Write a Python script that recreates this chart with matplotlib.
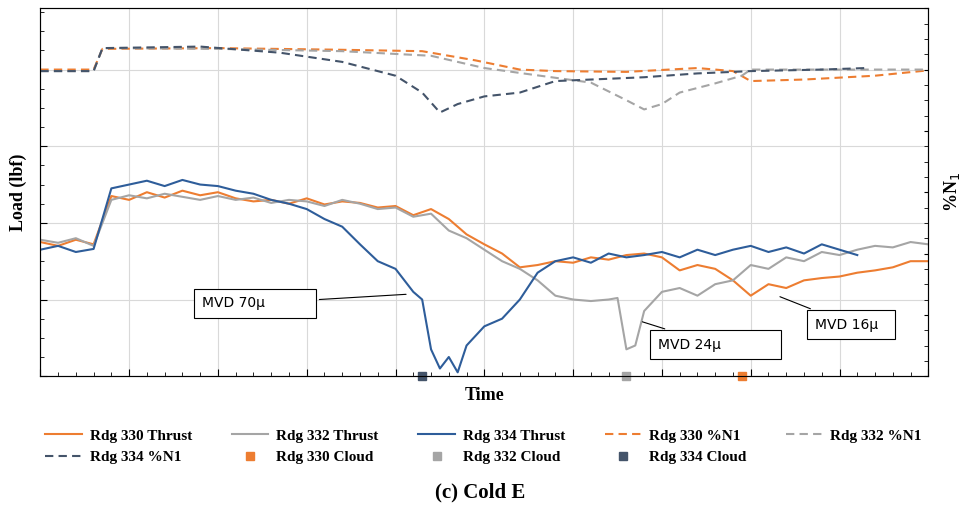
import matplotlib
matplotlib.use("Agg")
import matplotlib.pyplot as plt
from matplotlib.ticker import MultipleLocator, NullFormatter
from matplotlib.lines import Line2D

# ---------------------------------------------------------------------------
# Data (time 0..100, load in arbitrary units 0..4.8)
# ---------------------------------------------------------------------------
x330 = [0, 2, 4, 6, 8, 10, 12, 14, 16, 18, 20, 22, 24, 26, 28, 30, 32, 34, 36, 38, 40, 42, 44, 46, 48,
        50, 52, 54, 56, 58, 60, 62, 64, 66, 68, 70, 72, 74, 76, 78, 80, 82, 84, 86, 88, 90, 92, 94, 96, 98, 100]
thrust330 = [1.75, 1.70, 1.78, 1.72, 2.35, 2.30, 2.40, 2.33, 2.42, 2.36, 2.40, 2.32, 2.28, 2.30, 2.25, 2.32,
             2.24, 2.28, 2.26, 2.20, 2.22, 2.10, 2.18, 2.05, 1.85, 1.72, 1.60, 1.42, 1.45, 1.50, 1.48, 1.55,
             1.52, 1.58, 1.60, 1.55, 1.38, 1.45, 1.40, 1.25, 1.05, 1.20, 1.15, 1.25, 1.28, 1.30, 1.35, 1.38,
             1.42, 1.50, 1.50]

x332 = [0, 2, 4, 6, 8, 10, 12, 14, 16, 18, 20, 22, 24, 26, 28, 30, 32, 34, 36, 38, 40, 42, 44, 46, 48,
        50, 52, 54, 56, 58, 60, 62, 64, 65, 66, 67, 68, 70, 72, 74, 76, 78, 80, 82, 84, 86, 88, 90, 92, 94,
        96, 98, 100]
thrust332 = [1.78, 1.74, 1.80, 1.70, 2.30, 2.36, 2.32, 2.38, 2.34, 2.30, 2.35, 2.30, 2.33, 2.26, 2.30, 2.28,
             2.22, 2.30, 2.25, 2.18, 2.20, 2.08, 2.12, 1.90, 1.80, 1.65, 1.50, 1.40, 1.25, 1.05, 1.00, 0.98,
             1.00, 1.02, 0.35, 0.40, 0.85, 1.10, 1.15, 1.05, 1.20, 1.25, 1.45, 1.40, 1.55, 1.50, 1.62, 1.58,
             1.65, 1.70, 1.68, 1.75, 1.72]

x334 = [0, 2, 4, 6, 8, 10, 12, 14, 16, 18, 20, 22, 24, 26, 28, 30, 32, 34, 36, 38, 40, 42, 43, 44, 45,
        46, 47, 48, 50, 52, 54, 56, 58, 60, 62, 64, 66, 68, 70, 72, 74, 76, 78, 80, 82, 84, 86, 88, 90, 92]
thrust334 = [1.65, 1.70, 1.62, 1.66, 2.45, 2.50, 2.55, 2.48, 2.56, 2.50, 2.48, 2.42, 2.38, 2.30, 2.25, 2.18,
             2.05, 1.95, 1.72, 1.50, 1.40, 1.10, 1.00, 0.35, 0.10, 0.25, 0.05, 0.40, 0.65, 0.75, 1.00, 1.35,
             1.50, 1.55, 1.48, 1.60, 1.55, 1.58, 1.62, 1.55, 1.65, 1.58, 1.65, 1.70, 1.62, 1.68, 1.60, 1.72,
             1.65, 1.58]

xn330 = [0, 6, 7, 20, 33, 43, 49, 54, 58, 66, 74, 78, 80, 86, 94, 100]
n1_330 = [4.00, 4.00, 4.27, 4.28, 4.26, 4.24, 4.12, 4.00, 3.98, 3.97, 4.02, 3.98, 3.85, 3.87, 3.92, 3.99]
xn332 = [0, 6, 7, 20, 34, 44, 50, 55, 62, 66, 68, 70, 72, 76, 79, 80, 86, 100]
n1_332 = [3.98, 3.98, 4.28, 4.27, 4.24, 4.18, 4.02, 3.94, 3.83, 3.60, 3.48, 3.55, 3.70, 3.82, 3.92, 4.00,
          4.00, 4.00]
xn334 = [0, 6, 7, 18, 27, 34, 40, 43, 45, 47, 50, 54, 58, 68, 74, 80, 88, 93]
n1_334 = [3.98, 3.98, 4.28, 4.30, 4.22, 4.10, 3.92, 3.70, 3.44, 3.55, 3.65, 3.70, 3.85, 3.90, 3.95, 3.98,
          4.00, 4.02]

cloud_x = [79, 65.9, 43]

ORANGE = "#ED7D31"
GREY = "#A5A5A5"
BLUE = "#2E5D9A"
NAVY = "#44546A"
DASH = (0, (4, 2.5))

plt.rcParams["font.family"] = ["Liberation Serif", "DejaVu Serif"]

fig = plt.figure(figsize=(9.6, 5.16), dpi=100)
ax = fig.add_axes([0.042, 0.271, 0.925, 0.713])

ax.plot(x330, thrust330, color=ORANGE, lw=1.5)
ax.plot(x332, thrust332, color=GREY, lw=1.5)
ax.plot(x334, thrust334, color=BLUE, lw=1.5)
ax.plot(xn330, n1_330, color=ORANGE, lw=1.5, ls=DASH)
ax.plot(xn332, n1_332, color=GREY, lw=1.5, ls=DASH)
ax.plot(xn334, n1_334, color=NAVY, lw=1.5, ls=DASH)
for cx, c in zip(cloud_x, [ORANGE, GREY, NAVY]):
    ax.plot([cx], [0], marker="s", ms=6, color=c, clip_on=False, zorder=5)

ax.set_xlim(0, 100)
ax.set_ylim(0, 4.8)
ax.xaxis.set_major_locator(MultipleLocator(10))
ax.xaxis.set_minor_locator(MultipleLocator(2))
ax.yaxis.set_major_locator(MultipleLocator(1))
ax.yaxis.set_minor_locator(MultipleLocator(0.25))
ax.xaxis.set_major_formatter(NullFormatter())
ax.yaxis.set_major_formatter(NullFormatter())
ax.grid(True, which="major", color="#D9D9D9", lw=0.8)
ax.tick_params(which="both", direction="in", length=3)
ax.tick_params(which="major", length=5)
for s in ax.spines.values():
    s.set_color("#595959")
ax.set_xlabel("Time", fontsize=13, fontweight="bold", labelpad=4)
ax.set_ylabel("Load (lbf)", fontsize=13, fontweight="bold", labelpad=6)

ax2 = ax.twinx()
ax2.set_ylim(0, 6)
ax2.yaxis.set_major_locator(MultipleLocator(1))
ax2.yaxis.set_minor_locator(MultipleLocator(0.25))
ax2.yaxis.set_major_formatter(NullFormatter())
ax2.tick_params(which="both", direction="in", length=3)
ax2.set_ylabel("%N$_1$", fontsize=13, fontweight="bold", labelpad=6)

box = dict(boxstyle="square,pad=0.55", fc="white", ec="black", lw=0.8)
arrow = dict(arrowstyle="-", color="black", lw=0.8)
ax.annotate("MVD 70μ          ", xy=(41.5, 1.07), xytext=(24.2, 0.95), fontsize=10, bbox=box,
            arrowprops=arrow, va="center", ha="center", family=["DejaVu Sans"])
ax.annotate("MVD 24μ            ", xy=(67.5, 0.72), xytext=(76, 0.41), fontsize=10, bbox=box,
            arrowprops=arrow, va="center", ha="center", family=["DejaVu Sans"])
ax.annotate("MVD 16μ  ", xy=(83, 1.05), xytext=(91.3, 0.67), fontsize=10, bbox=box,
            arrowprops=arrow, va="center", ha="center", family=["DejaVu Sans"])

h = [
    Line2D([], [], color=ORANGE, lw=1.5, label="Rdg 330 Thrust"),
    Line2D([], [], color=GREY, lw=1.5, label="Rdg 332 Thrust"),
    Line2D([], [], color=BLUE, lw=1.5, label="Rdg 334 Thrust"),
    Line2D([], [], color=ORANGE, lw=1.5, ls=DASH, label="Rdg 330 %N1"),
    Line2D([], [], color=GREY, lw=1.5, ls=DASH, label="Rdg 332 %N1"),
    Line2D([], [], color=NAVY, lw=1.5, ls=DASH, label="Rdg 334 %N1"),
    Line2D([], [], color=ORANGE, marker="s", ls="none", ms=6, label="Rdg 330 Cloud"),
    Line2D([], [], color=GREY, marker="s", ls="none", ms=6, label="Rdg 332 Cloud"),
    Line2D([], [], color=NAVY, marker="s", ls="none", ms=6, label="Rdg 334 Cloud"),
]
# legend fills column-wise; reorder so it reads row by row
order = [0, 5, 1, 6, 2, 7, 3, 8, 4]
fig.legend(handles=[h[i] for i in order], loc="upper left", bbox_to_anchor=(0.033, 0.195), ncol=5,
           frameon=False, prop={"weight": "bold", "size": 11}, handlelength=2.4,
           columnspacing=2.6, handletextpad=0.5)

fig.text(0.5, 0.035, "(c) Cold E", ha="center", fontsize=15, fontweight="bold")

fig.savefig("out.png", dpi=100)
